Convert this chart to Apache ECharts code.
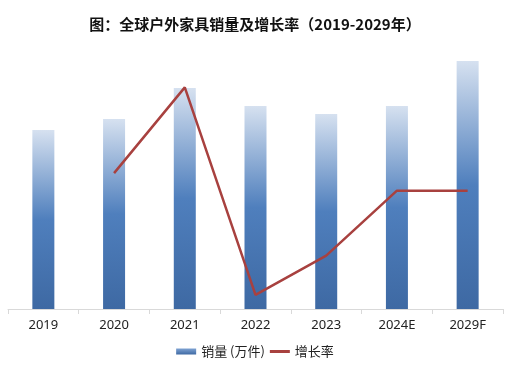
<!DOCTYPE html>
<html><head><meta charset="utf-8">
<script src="https://cdn.jsdelivr.net/npm/echarts@6/dist/echarts.min.js"></script>
<style>html,body{margin:0;padding:0;background:#fff}#c{width:510px;height:371px}</style>
</head><body><div id="c"></div>
<script>
var categories = ['2019','2020','2021','2022','2023','2024E','2029F'];
var sales = [179, 190, 221, 203, 195, 203, 248];
var growth = [null, 6.3, 16.6, -8.3, -3.6, 4.2, 4.2];

var chart = echarts.init(document.getElementById('c'));
var barGrad = new echarts.graphic.LinearGradient(0,0,0,1,[
  {offset:0,color:'#D6E1F0'},
  {offset:0.5,color:'#4F7FBD'},
  {offset:1,color:'#3E69A3'}
]);
var legendGrad = new echarts.graphic.LinearGradient(0,0,0,1,[
  {offset:0,color:'#7FA3D3'},
  {offset:1,color:'#3E69A3'}
]);
chart.setOption({
  animation:false,
  title:{text:'图：全球户外家具销量及增长率（2019-2029年）',left:'center',top:12,
    textStyle:{fontFamily:'Noto Sans CJK SC',fontSize:15,fontWeight:'bold',color:'#111'}},
  legend:{bottom:8,left:'center',itemGap:5,itemWidth:20,itemHeight:6,
    textStyle:{fontFamily:'Noto Sans CJK SC',fontSize:13,color:'#222'},
    data:[
      {name:'销量 (万件)',icon:'rect',itemStyle:{color:legendGrad}},
      {name:'增长率',icon:'path://M0,0H20V3H0Z',itemStyle:{color:'#A8413F'}}
    ]},
  grid:{left:8,right:7,top:59,bottom:62,containLabel:false},
  xAxis:{type:'category',data:categories,
    axisLine:{lineStyle:{color:'#D9D9D9'}},
    axisTick:{show:true,lineStyle:{color:'#D9D9D9'}},
    axisLabel:{color:'#222',fontSize:13,fontFamily:'Noto Sans',margin:10}},
  yAxis:[
    {type:'value',min:0,max:250,show:false,splitLine:{show:false}},
    {type:'value',min:-10,max:20,show:false,splitLine:{show:false}}
  ],
  series:[
    {name:'销量 (万件)',type:'bar',data:sales,barWidth:22,itemStyle:{color:barGrad}},
    {name:'增长率',type:'line',yAxisIndex:1,data:growth,symbol:'none',
      lineStyle:{color:'#A8413F',width:2.5},itemStyle:{color:'#A8413F'}}
  ]
});
</script></body></html>
